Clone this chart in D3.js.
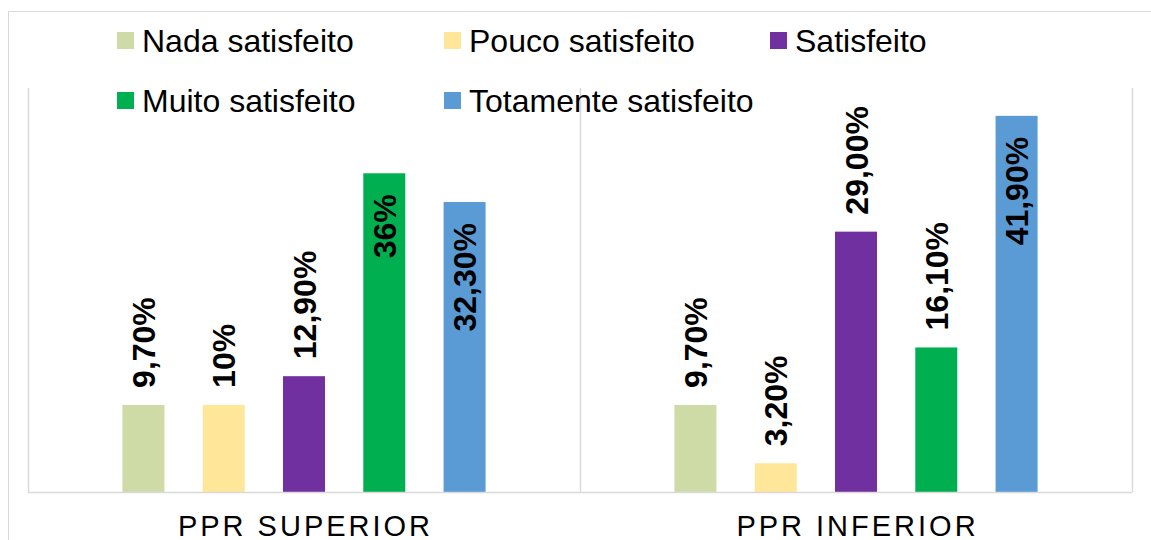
<!DOCTYPE html>
<html lang="pt">
<head>
<meta charset="UTF-8">
<title>Satisfação PPR</title>
<script src="https://d3js.org/d3.v7.min.js"></script>
<style>
    body { margin: 0; background: #fff; }
    text { font-family: 'Liberation Sans', Arial, sans-serif; fill: #000; }
    .lbl { font-weight: bold; font-size: 32px; }
    .leg { font-size: 32px; }
    .cat { font-size: 29px; letter-spacing: 3px; }
</style>
</head>
<body>
<script>
    const width = 1151;
    const height = 540;

    const categories = ['PPR SUPERIOR', 'PPR INFERIOR'];
    const series = ['Nada satisfeito', 'Pouco satisfeito', 'Satisfeito', 'Muito satisfeito', 'Totamente satisfeito'];
    const colors = ['#cfdba6', '#ffe699', '#7030a0', '#00b050', '#5b9bd5'];

    const superiorValues = [9.7, 9.7, 12.9, 35.5, 32.3];
    const inferiorValues = [9.7, 3.2, 29.0, 16.1, 41.9];
    const superiorLabels = ['9,70%', '10%', '12,90%', '36%', '32,30%'];
    const inferiorLabels = ['9,70%', '3,20%', '29,00%', '16,10%', '41,90%'];
    const yMax = 45;

    const values = [superiorValues, inferiorValues];
    const labels = [superiorLabels, inferiorLabels];

    const plot = {left: 28, right: 1132, top: 88, bottom: 492};

    const svg = d3.select('body').append('svg').attr('width', width).attr('height', height);

    // outer chart border
    svg.append('rect')
        .attr('x', 8.5).attr('y', 11.5)
        .attr('width', 1200).attr('height', 600)
        .attr('fill', 'none').attr('stroke', '#d9d9d9').attr('stroke-width', 1);

    const x0 = d3.scaleBand().domain(categories).range([plot.left, plot.right]);
    const x1 = d3.scaleBand().domain(series).range([0, x0.bandwidth()])
        .paddingInner(0.477).paddingOuter(1.176);
    const y = d3.scaleLinear().domain([0, yMax]).range([plot.bottom, plot.top]);

    // category separators
    const seps = [plot.left, ...categories.map(c => x0(c) + x0.bandwidth())];
    svg.selectAll('line.sep').data(seps).enter().append('line')
        .attr('class', 'sep')
        .attr('x1', d => Math.round(d) + 0.5).attr('x2', d => Math.round(d) + 0.5)
        .attr('y1', plot.top).attr('y2', plot.bottom)
        .attr('stroke', '#d9d9d9').attr('stroke-width', 1.5);

    const rows = [];
    categories.forEach((c, ci) => {
        series.forEach((s, si) => {
            rows.push({cat: c, ser: s, si: si, value: values[ci][si], label: labels[ci][si]});
        });
    });

    const g = svg.append('g');
    g.selectAll('rect.bar').data(rows).enter().append('rect')
        .attr('class', 'bar')
        .attr('x', d => x0(d.cat) + x1(d.ser))
        .attr('width', x1.bandwidth())
        .attr('y', d => y(d.value))
        .attr('height', d => y(0) - y(d.value))
        .attr('fill', d => colors[d.si]);

    // x axis line
    svg.append('line')
        .attr('x1', plot.left).attr('x2', plot.right)
        .attr('y1', plot.bottom + 0.5).attr('y2', plot.bottom + 0.5)
        .attr('stroke', '#d9d9d9').attr('stroke-width', 1.5);

    // rotated value labels: above the bar, or inside when it would not fit
    const labelLen = 100;
    const isInside = d => y(d.value) - 17 - labelLen < plot.top + 10;
    g.selectAll('text.lbl').data(rows).enter().append('text')
        .attr('class', 'lbl')
        .attr('transform', d => {
            const cx = x0(d.cat) + x1(d.ser) + x1.bandwidth() / 2;
            const top = y(d.value);
            const yy = isInside(d) ? top + 21 : top - 17;
            return `translate(${cx},${yy}) rotate(-90)`;
        })
        .attr('text-anchor', d => isInside(d) ? 'end' : 'start')
        .attr('dy', '0.36em')
        .text(d => d.label);

    // category labels
    svg.selectAll('text.cat').data(categories).enter().append('text')
        .attr('class', 'cat')
        .attr('x', d => x0(d) + x0.bandwidth() / 2 + 1.5)
        .attr('y', 536)
        .attr('text-anchor', 'middle')
        .text(d => d);

    // legend
    const legCols = [117, 444, 770];
    const legRows = [32, 92];
    const leg = svg.selectAll('g.leg').data(series).enter().append('g')
        .attr('class', 'leg')
        .attr('transform', (d, i) => `translate(${legCols[i % 3]},${legRows[Math.floor(i / 3)]})`);
    leg.append('rect').attr('width', 17).attr('height', 17).attr('fill', (d, i) => colors[i]);
    leg.append('text').attr('class', 'leg').attr('x', 25).attr('y', 20).text(d => d);
</script>
</body>
</html>
